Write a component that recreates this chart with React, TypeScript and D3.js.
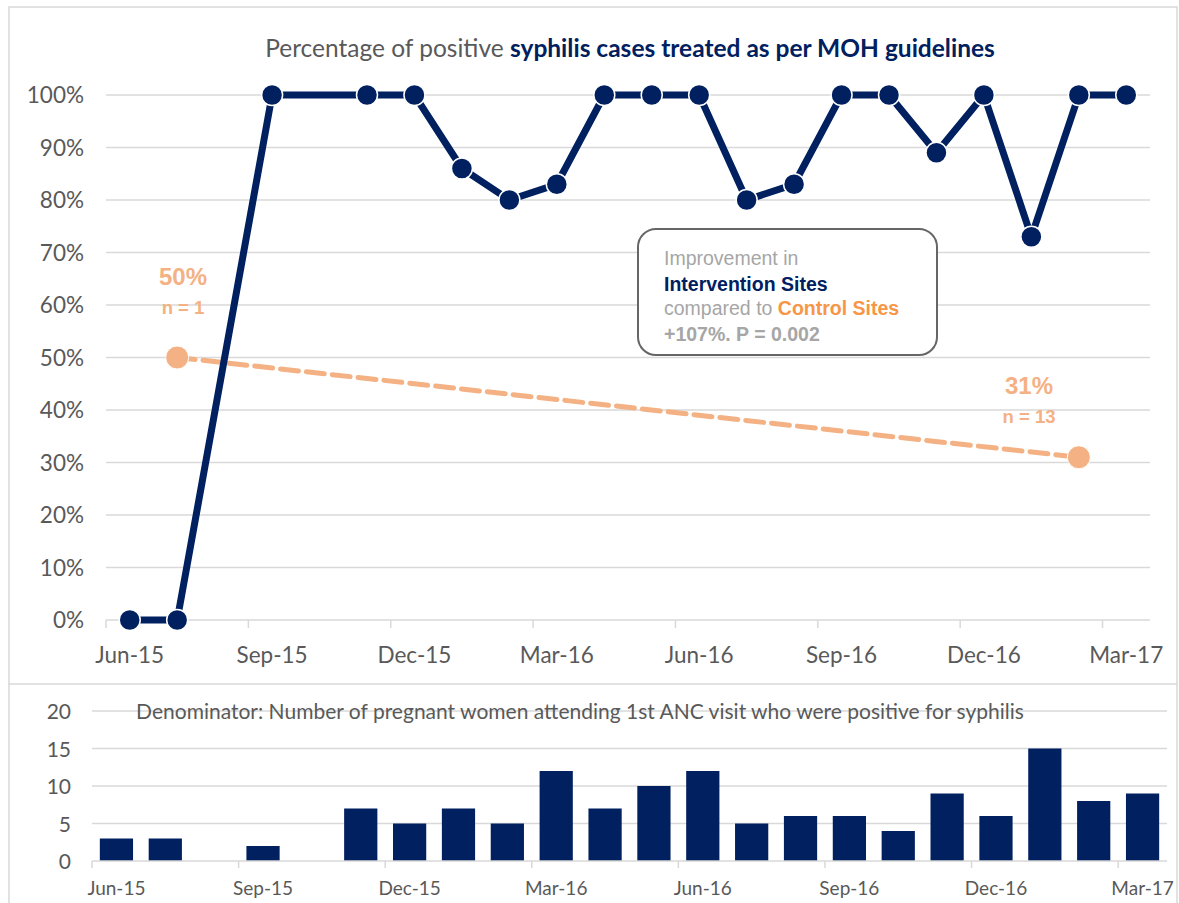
import React from "react";
import * as d3 from "d3";

const months = ["Jun-15","Jul-15","Aug-15","Sep-15","Oct-15","Nov-15","Dec-15","Jan-16","Feb-16","Mar-16","Apr-16","May-16","Jun-16","Jul-16","Aug-16","Sep-16","Oct-16","Nov-16","Dec-16","Jan-17","Feb-17","Mar-17"];
const tickLabels = ["Jun-15","Sep-15","Dec-15","Mar-16","Jun-16","Sep-16","Dec-16","Mar-17"];
const interventionPct: (number | null)[] = [0,0,null,100,null,100,100,86,80,83,100,100,100,80,83,100,100,89,100,73,100,100];
const controlPoints = [{ month: "Jul-15", value: 50, n: 1 }, { month: "Feb-17", value: 31, n: 13 }];
const denominator = [3,3,0,2,0,7,5,7,5,12,7,10,12,5,6,6,4,9,6,15,8,9];
const pctTicks = [0,10,20,30,40,50,60,70,80,90,100];
const countTicks = [0,5,10,15,20];

const NAVY = "#002060";
const ORANGE = "#F4B183";
const ORANGE_TXT = "#F79646";
const GRAY = "#595959";
const GRID = "#D9D9D9";
const FONT = "Lato, 'Open Sans', sans-serif";
const ARIAL = "'Liberation Sans', Arial, sans-serif";

export default function App() {
  const W = 1179, H = 903;
  const xTop = d3.scaleBand<string>().domain(months).range([106, 1150]).padding(0);
  const cx = (m: string) => (xTop(m) as number) + xTop.bandwidth() / 2;
  const yTop = d3.scaleLinear().domain([0, 100]).range([620, 95]);
  const linePts = months
    .map((m, i) => ({ m, v: interventionPct[i] }))
    .filter((d) => d.v !== null) as { m: string; v: number }[];
  const line = d3.line<{ m: string; v: number }>().x((d) => cx(d.m)).y((d) => yTop(d.v));
  const ctrlLine = d3.line<{ month: string; value: number }>().x((d) => cx(d.month)).y((d) => yTop(d.value));

  const xBot = d3.scaleBand<string>().domain(months).range([92, 1167]).paddingInner(0.32).paddingOuter(0.16);
  const xBotOuter = d3.scaleBand<string>().domain(months).range([92, 1167]).padding(0);
  const yBot = d3.scaleLinear().domain([0, 20]).range([861, 711]);

  return (
    <svg width={W} height={H} style={{ display: "block", position: "absolute", left: 0, top: 0 }}>
      <rect x={0} y={0} width={W} height={H} fill="#fff" />
      <rect x={9} y={7} width={1168} height={677} fill="none" stroke="#D9D9D9" strokeWidth={1.5} />
      <line x1={9} x2={9} y1={684} y2={903} stroke="#D9D9D9" strokeWidth={1.5} />
      <line x1={1177} x2={1177} y1={684} y2={903} stroke="#D9D9D9" strokeWidth={1.5} />

      <text x={630} y={57} textAnchor="middle" fontFamily={FONT} fontSize={24.5} fill={GRAY}>
        Percentage of positive <tspan fontWeight="bold" fill={NAVY}>syphilis cases treated as per MOH guidelines</tspan>
      </text>

      {pctTicks.map((t) => (
        <g key={t}>
          {t > 0 && <line x1={106} x2={1150} y1={yTop(t)} y2={yTop(t)} stroke={GRID} strokeWidth={1.5} />}
          <text x={84} y={yTop(t) + 8} textAnchor="end" fontFamily={FONT} fontSize={22.5} fill={GRAY}>{t}%</text>
        </g>
      ))}
      <line x1={106} x2={1150} y1={620} y2={620} stroke={GRID} strokeWidth={1.5} />
      {tickLabels.map((m) => (
        <g key={m}>
          <line x1={xTop(m) as number} x2={xTop(m) as number} y1={620} y2={628} stroke={GRID} strokeWidth={1.5} />
          <text x={cx(m)} y={663} textAnchor="middle" fontFamily={FONT} fontSize={22.5} fill={GRAY}>{m}</text>
        </g>
      ))}

      <path d={ctrlLine(controlPoints) as string} fill="none" stroke={ORANGE} strokeWidth={5} strokeDasharray="18 8" strokeLinecap="round" />
      {controlPoints.map((d) => (
        <circle key={d.month} cx={cx(d.month)} cy={yTop(d.value)} r={11.5} fill={ORANGE} stroke="#fff" strokeWidth={1} />
      ))}

      <path d={line(linePts) as string} fill="none" stroke={NAVY} strokeWidth={7} />
      {linePts.map((d) => (
        <circle key={d.m} cx={cx(d.m)} cy={yTop(d.v)} r={10.5} fill={NAVY} stroke="#fff" strokeWidth={1.5} />
      ))}

      <text x={183} y={285} textAnchor="middle" fontFamily={ARIAL} fontWeight="bold" fontSize={24} fill={ORANGE}>{controlPoints[0].value}%</text>
      <text x={183} y={314} textAnchor="middle" fontFamily={ARIAL} fontWeight="bold" fontSize={18.5} fill={ORANGE}>n = {controlPoints[0].n}</text>
      <text x={1029} y={394} textAnchor="middle" fontFamily={ARIAL} fontWeight="bold" fontSize={24} fill={ORANGE}>{controlPoints[1].value}%</text>
      <text x={1029} y={423} textAnchor="middle" fontFamily={ARIAL} fontWeight="bold" fontSize={18.5} fill={ORANGE}>n = {controlPoints[1].n}</text>

      <rect x={638} y={229} width={299} height={126} rx={18} ry={18} fill="#fff" stroke="#666" strokeWidth={2} />
      <g fontFamily={ARIAL} fontSize={19.5}>
        <text x={664} y={265} fill="#A6A6A6">Improvement in</text>
        <text x={664} y={291} fill={NAVY} fontWeight="bold">Intervention Sites</text>
        <text x={664} y={315} fill="#A6A6A6">compared to <tspan fill={ORANGE_TXT} fontWeight="bold">Control Sites</tspan></text>
        <text x={664} y={341} fill="#A6A6A6" fontWeight="bold">+107%. P = 0.002</text>
      </g>

      {countTicks.map((t) => (
        <g key={t}>
          {t > 0 && <line x1={92} x2={1167} y1={yBot(t)} y2={yBot(t)} stroke={GRID} strokeWidth={1.5} />}
          <text x={71} y={yBot(t) + 8} textAnchor="end" fontFamily={FONT} fontSize={21} fill={GRAY}>{t}</text>
        </g>
      ))}
      <text x={580} y={719} textAnchor="middle" fontFamily={FONT} fontSize={21} fill={GRAY}>
        Denominator: Number of pregnant women attending 1st ANC visit who were positive for syphilis
      </text>
      {months.map((m, i) => (
        denominator[i] > 0 ? (
          <rect key={m} x={xBot(m) as number} y={yBot(denominator[i])} width={xBot.bandwidth()} height={yBot(0) - yBot(denominator[i])} fill={NAVY} />
        ) : null
      ))}
      <line x1={92} x2={1167} y1={861} y2={861} stroke={GRID} strokeWidth={1.5} />
      {tickLabels.map((m) => (
        <g key={"b" + m}>
          <line x1={xBotOuter(m) as number} x2={xBotOuter(m) as number} y1={861} y2={868} stroke={GRID} strokeWidth={1.5} />
          <text x={(xBotOuter(m) as number) + xBotOuter.bandwidth() / 2} y={895} textAnchor="middle" fontFamily={FONT} fontSize={19} fill={GRAY}>{m}</text>
        </g>
      ))}
    </svg>
  );
}
